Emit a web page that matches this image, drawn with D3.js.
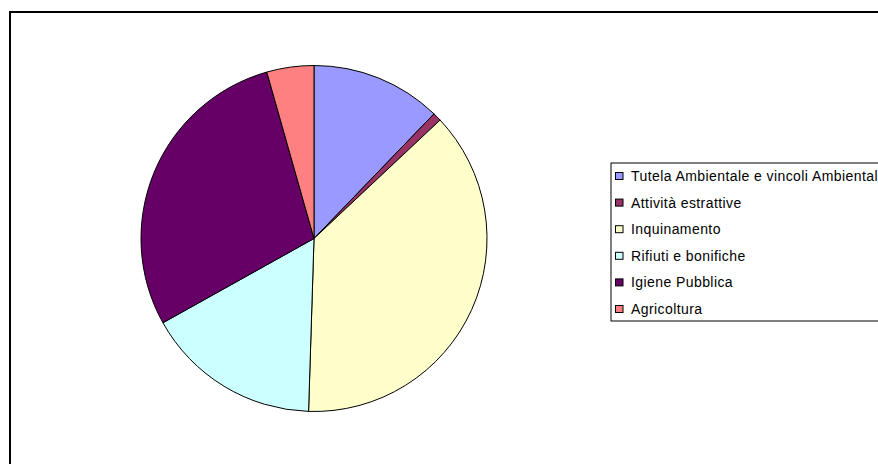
<!DOCTYPE html>
<html>
<head>
<meta charset="utf-8">
<script src="https://cdn.jsdelivr.net/npm/d3@7"></script>
<style>
  html, body { margin: 0; padding: 0; background: #fff; }
  svg { display: block; }
</style>
</head>
<body>
<svg id="chart" width="878" height="464"></svg>
<script>
// Share of cases by sector (percent)
const categories = [
  "Tutela Ambientale e vincoli Ambientali",
  "Attività estrattive",
  "Inquinamento",
  "Rifiuti e bonifiche",
  "Igiene Pubblica",
  "Agricoltura"
];
const values = [12.2, 0.8, 37.5, 16.4, 28.7, 4.4];
const colors = ["#9999FF", "#993366", "#FFFFCC", "#CCFFFF", "#660066", "#FF8080"];

const svg = d3.select("#chart");
const W = 878, H = 464;

// Chart area frame (extends past the right and bottom edges)
svg.append("rect")
  .attr("x", 10).attr("y", 12)
  .attr("width", W + 20).attr("height", H + 20)
  .attr("fill", "#fff")
  .attr("stroke", "#000")
  .attr("stroke-width", 2);

const data = categories.map((c, i) => ({ name: c, value: values[i], color: colors[i] }));

const cx = 314, cy = 238.5, r = 173;
const pie = d3.pie().value(d => d.value).sort(null);
const arc = d3.arc().innerRadius(0).outerRadius(r);

svg.append("g")
  .attr("transform", `translate(${cx},${cy})`)
  .selectAll("path")
  .data(pie(data))
  .join("path")
  .attr("d", arc)
  .attr("fill", d => d.data.color)
  .attr("stroke", "#000")
  .attr("stroke-width", 1)
  .attr("stroke-linejoin", "round");

// Legend
const lx = 611, ly = 163, rowH = 26.6;
const legend = svg.append("g");
legend.append("rect")
  .attr("x", lx).attr("y", ly)
  .attr("width", 300).attr("height", 158)
  .attr("fill", "#fff")
  .attr("stroke", "#000")
  .attr("stroke-width", 1);

const rows = legend.selectAll("g.row")
  .data(data)
  .join("g")
  .attr("class", "row")
  .attr("transform", (d, i) => `translate(0,${ly + 9.5 + i * rowH})`);

rows.append("rect")
  .attr("x", 615.5).attr("y", 0)
  .attr("width", 7.5).attr("height", 7)
  .attr("fill", d => d.color)
  .attr("stroke", "#000")
  .attr("stroke-width", 1);

rows.append("text")
  .attr("x", 631).attr("y", 8.5)
  .attr("font-family", "Liberation Sans, Arial, sans-serif")
  .attr("font-size", 14)
  .attr("letter-spacing", 0.42)
  .attr("fill", "#000")
  .text(d => d.name);
</script>
</body>
</html>
